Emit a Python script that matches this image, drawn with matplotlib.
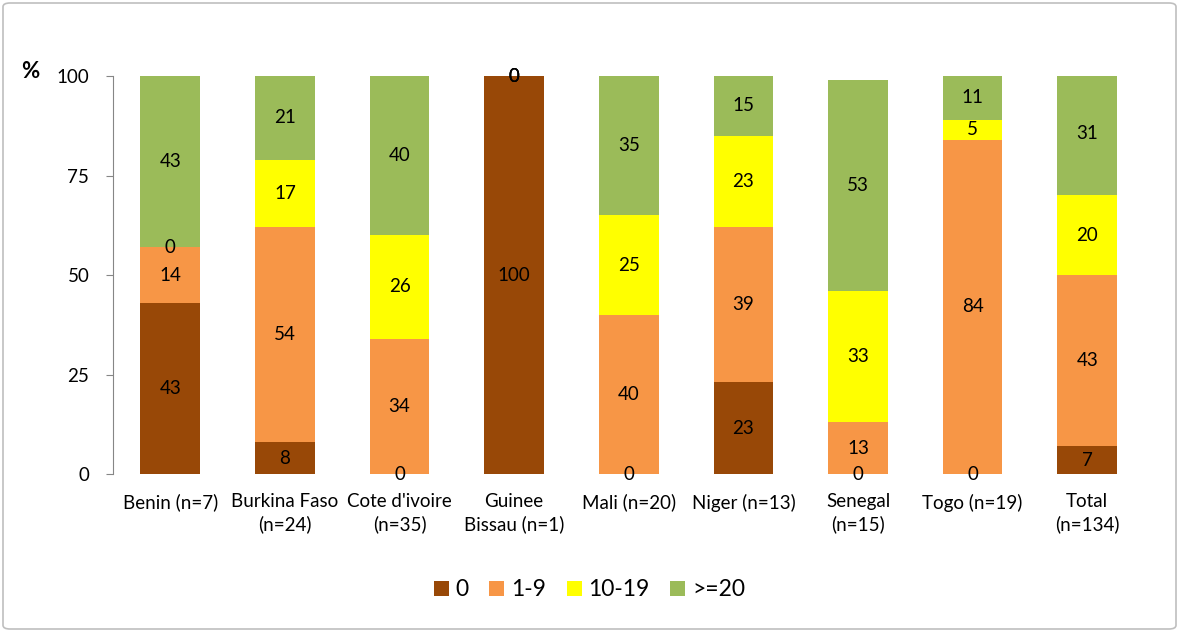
import matplotlib
matplotlib.use("Agg")
import matplotlib.pyplot as plt
from matplotlib.patches import FancyBboxPatch
import numpy as np

plt.rcParams['font.family'] = ['Lato', 'DejaVu Sans']

countries = ["Benin (n=7)", "Burkina Faso\n(n=24)", "Cote d'ivoire\n(n=35)", "Guinee\nBissau (n=1)",
             "Mali (n=20)", "Niger (n=13)", "Senegal\n(n=15)", "Togo (n=19)", "Total\n(n=134)"]
series = ["0", "1-9", "10-19", ">=20"]
v_0 = [43, 8, 0, 100, 0, 23, 0, 0, 7]
v_1_9 = [14, 54, 34, 0, 40, 39, 13, 84, 43]
v_10_19 = [0, 17, 26, 0, 25, 23, 33, 5, 20]
v_20plus = [43, 21, 40, 0, 35, 15, 53, 11, 31]
yticks = [0, 25, 50, 75, 100]

colors = ["#984807", "#F79646", "#FFFF00", "#9BBB59"]

fig = plt.figure(figsize=(11.79, 6.32), dpi=100)
ax = fig.add_axes([0.0958, 0.25, 0.875, 0.6297])

x = np.arange(len(countries))
bottom = np.zeros(len(countries))
handles = []
for vals, col, name in zip([v_0, v_1_9, v_10_19, v_20plus], colors, series):
    vals = np.array(vals, dtype=float)
    b = ax.bar(x, vals, 0.52, bottom=bottom, color=col, label=name)
    handles.append(b)
    for xi, v, bt in zip(x, vals, bottom):
        ax.text(xi, bt + v / 2, f"{int(v)}", ha='center', va='center', fontsize=13.5, color='black')
    bottom += vals

ax.set_xlim(-0.5, len(countries) - 0.5)
ax.set_ylim(0, 100)
ax.set_yticks(yticks)
ax.set_yticklabels([str(t) for t in yticks], fontsize=13.5)
ax.set_xticks(x)
ax.set_xticklabels(countries, fontsize=13.5, linespacing=1.3)
ax.tick_params(axis='x', length=0, pad=14)
ax.tick_params(axis='y', direction='out', length=5, color='#868686', pad=12)
for s in ['top', 'right', 'bottom']:
    ax.spines[s].set_visible(False)
ax.spines['left'].set_color('#868686')

fig.text(30 / 1179, 1 - 72 / 632, "%", fontsize=16, fontweight='bold', ha='center', va='center')

fig.legend(handles=handles, labels=series, loc='center', bbox_to_anchor=(0.5, 1 - 590 / 632),
           ncol=4, frameon=False, fontsize=16.5, handlelength=0.65, handleheight=0.65,
           handletextpad=0.3, columnspacing=0.9)

border = FancyBboxPatch((3 / 1179, 3 / 632), 1 - 6 / 1179, 1 - 6 / 632,
                        boxstyle="round,pad=0,rounding_size=0.006", transform=fig.transFigure,
                        facecolor='none', edgecolor='#BFBFBF', linewidth=1.2)
fig.patches.append(border)

fig.savefig("out.png", dpi=100)
